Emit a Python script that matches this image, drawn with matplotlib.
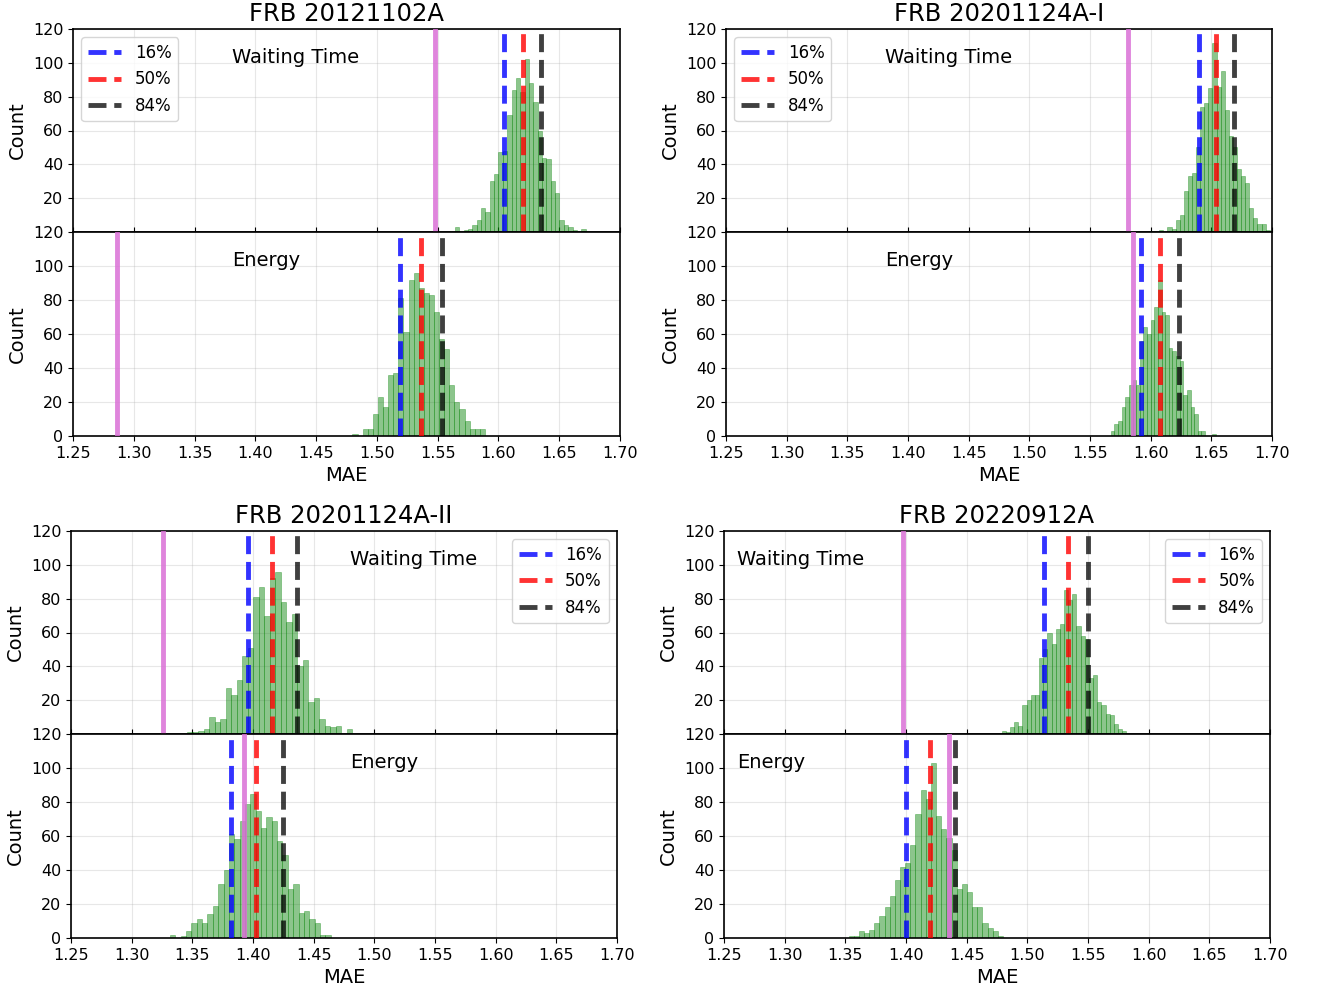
import numpy as np
import matplotlib
matplotlib.use("Agg")
import matplotlib.pyplot as plt

titles = ["FRB 20121102A", "FRB 20201124A-I", "FRB 20201124A-II", "FRB 20220912A"]

# ---- Waiting-time histograms (counts per bin, bin range) ----
wt_counts_1 = [3, 0, 1, 2, 4, 7, 14, 12, 30, 34, 47, 48, 69, 84, 91, 83, 102, 88, 77, 60,
               44, 43, 30, 23, 7, 4, 3, 1, 0, 2]
wt_range_1 = (1.5642, 1.6717)
wt_counts_2 = [1, 0, 3, 2, 7, 10, 24, 33, 35, 50, 74, 76, 85, 112, 86, 95, 72, 57, 50, 37,
               33, 29, 14, 8, 5, 5, 1]
wt_range_2 = (1.6071, 1.6981)
wt_counts_3 = [1, 1, 2, 3, 10, 7, 9, 27, 23, 32, 46, 51, 81, 87, 70, 92, 96, 78, 66, 71,
               40, 44, 19, 21, 9, 5, 4, 5, 0, 3]
wt_range_3 = (1.3459, 1.4816)
wt_counts_4 = [2, 1, 4, 7, 5, 17, 20, 23, 23, 45, 50, 60, 53, 62, 65, 85, 79, 83, 64, 58,
               56, 33, 35, 19, 17, 12, 11, 6, 3, 2]
wt_range_4 = (1.4788, 1.5816)

# ---- Energy histograms ----
en_counts_1 = [1, 0, 4, 4, 13, 23, 17, 36, 37, 81, 61, 92, 96, 87, 84, 83, 73, 57, 51, 30,
               20, 16, 9, 4, 4, 4]
en_range_1 = (1.4799, 1.5889)
en_counts_2 = [3, 7, 9, 17, 23, 30, 33, 30, 56, 64, 60, 68, 76, 92, 73, 71, 52, 50, 47, 44,
               24, 27, 17, 13, 3, 3, 0, 0, 1]
en_range_2 = (1.5671, 1.6538)
en_counts_3 = [2, 0, 1, 4, 9, 11, 9, 14, 19, 32, 40, 61, 58, 69, 79, 85, 75, 65, 71, 69,
               57, 49, 29, 32, 15, 16, 11, 9, 2, 2]
en_range_3 = (1.3316, 1.4640)
en_counts_4 = [1, 1, 4, 3, 5, 9, 13, 18, 25, 34, 42, 44, 55, 73, 87, 82, 103, 72, 64, 59,
               52, 29, 32, 27, 18, 18, 9, 6, 4, 1]
en_range_4 = (1.3527, 1.4799)

# ---- percentile lines (16%, 50%, 84%) and observed value ----
wt_pct = [(1.6045, 1.6204, 1.6352), (1.6402, 1.6538, 1.6688),
          (1.3956, 1.4157, 1.4360), (1.5140, 1.5335, 1.5503)]
en_pct = [(1.5190, 1.5360, 1.5536), (1.5921, 1.6073, 1.6234),
          (1.3821, 1.4025, 1.4247), (1.3997, 1.4200, 1.4404)]
wt_obs = [1.5478, 1.5813, 1.3257, 1.3975]
en_obs = [1.2862, 1.5856, 1.3929, 1.4354]

pct_labels = ["16%", "50%", "84%"]
xticks = [1.25, 1.30, 1.35, 1.40, 1.45, 1.50, 1.55, 1.60, 1.65, 1.70]

wt_counts = [wt_counts_1, wt_counts_2, wt_counts_3, wt_counts_4]
wt_ranges = [wt_range_1, wt_range_2, wt_range_3, wt_range_4]
en_counts = [en_counts_1, en_counts_2, en_counts_3, en_counts_4]
en_ranges = [en_range_1, en_range_2, en_range_3, en_range_4]

# ---- layout (pixel boxes) ----
W, H = 1317, 991
fig = plt.figure(figsize=(W / 100, H / 100), dpi=100)

lefts = [73, 726, 71, 724]
rights = [620, 1272, 617, 1270]
tops = [29, 29, 531, 531]
mids = [232, 232, 734, 734]
bottoms = [436, 436, 938, 938]
text_x = [0.291, 0.291, 0.511, 0.024]
legend_loc = ["upper left", "upper left", "upper right", "upper right"]

pct_colors = ["blue", "red", "black"]
pct_alpha = [0.8, 0.8, 0.75]


def box(l, r, t, b):
    return [l / W, 1 - b / H, (r - l) / W, (b - t) / H]


def draw_hist(ax, counts, rng):
    edges = np.linspace(rng[0], rng[1], len(counts) + 1)
    centers = 0.5 * (edges[:-1] + edges[1:])
    ax.hist(centers, bins=edges, weights=counts, color="green", alpha=0.45,
            edgecolor="green", linewidth=0.5, zorder=2)


def style(ax):
    ax.set_xlim(1.25, 1.70)
    ax.set_ylim(0, 120)
    ax.set_xticks(xticks)
    ax.grid(True, alpha=0.3, zorder=0)
    ax.tick_params(labelsize=11.5)
    for s in ax.spines.values():
        s.set_linewidth(1.2)


for i in range(4):
    ax_t = fig.add_axes(box(lefts[i], rights[i], tops[i], mids[i]))
    ax_b = fig.add_axes(box(lefts[i], rights[i], mids[i], bottoms[i]))

    # top: waiting time
    draw_hist(ax_t, wt_counts[i], wt_ranges[i])
    ax_t.axvline(wt_obs[i], color="orchid", lw=3.5, alpha=0.85, zorder=3)
    for v, c, a, lab in zip(wt_pct[i], pct_colors, pct_alpha, pct_labels):
        ax_t.axvline(v, color=c, ls="--", lw=3.5, alpha=a, label=lab, zorder=4)
    style(ax_t)
    ax_t.set_yticks([20, 40, 60, 80, 100, 120])
    ax_t.tick_params(axis="x", labelbottom=False, direction="in")
    ax_t.set_ylabel("Count", fontsize=14)
    ax_t.set_title(titles[i], fontsize=17.5)
    ax_t.text(text_x[i], 0.862, "Waiting Time", transform=ax_t.transAxes,
              fontsize=14, ha="left", va="center")
    ax_t.legend(loc=legend_loc[i], fontsize=12)

    # bottom: energy
    draw_hist(ax_b, en_counts[i], en_ranges[i])
    ax_b.axvline(en_obs[i], color="orchid", lw=3.5, alpha=0.85, zorder=3)
    for v, c, a in zip(en_pct[i], pct_colors, pct_alpha):
        ax_b.axvline(v, color=c, ls="--", lw=3.5, alpha=a, zorder=4)
    style(ax_b)
    ax_b.set_yticks([0, 20, 40, 60, 80, 100, 120])
    ax_b.set_ylabel("Count", fontsize=14)
    ax_b.set_xlabel("MAE", fontsize=14)
    ax_b.text(text_x[i], 0.858, "Energy", transform=ax_b.transAxes,
              fontsize=14, ha="left", va="center")

fig.savefig("out.png", dpi=100)
